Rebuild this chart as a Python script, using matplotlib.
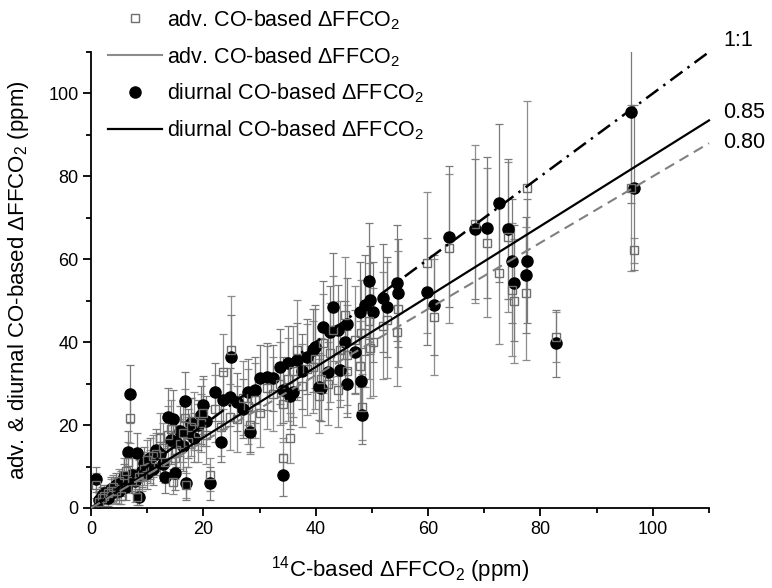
import matplotlib
matplotlib.use("Agg")
import matplotlib.pyplot as plt
from matplotlib.lines import Line2D
from matplotlib.ticker import MultipleLocator

plt.rcParams['font.family'] = ['Liberation Sans', 'DejaVu Sans']
plt.rcParams['mathtext.fontset'] = 'custom'
plt.rcParams['mathtext.rm'] = 'Liberation Sans'
plt.rcParams['mathtext.it'] = 'Liberation Sans:italic'
plt.rcParams['mathtext.bf'] = 'Liberation Sans:bold'

# 14C-based dFFCO2 (ppm)
x14c = [0.9, 1.5, 2.0, 2.4, 3.0, 3.5, 4.0, 4.5, 5.0, 5.4, 5.8, 6.2, 6.6, 6.9, 7.3, 7.8, 8.1, 8.6, 9.0, 9.5,
        10.0, 10.5, 11.0, 11.5, 12.2, 12.8, 13.1, 13.7, 14.2, 14.6, 14.9, 15.2, 15.8, 16.3, 16.7, 16.9, 17.3, 17.8, 18.4, 19.0,
        19.5, 20.0, 20.5, 21.2, 22.1, 23.2, 23.5, 24.7, 25.0, 25.9, 27.0, 28.0, 28.3, 29.2, 30.1, 31.3, 32.4, 33.6, 34.1, 34.2,
        35.1, 35.4, 36.0, 36.6, 37.5, 38.4, 39.5, 39.9, 40.5, 41.0, 41.3, 42.2, 42.5, 43.1, 44.0, 44.3, 45.2, 45.5, 45.6, 47.0,
        47.9, 48.0, 48.2, 48.8, 49.5, 49.6, 50.2, 51.9, 52.7, 54.5, 54.6, 59.8, 61.0, 63.8, 68.3, 70.5, 72.7, 74.3, 74.9, 75.3,
        77.5, 77.6, 82.7, 96.2, 96.6]

# diurnal CO-based dFFCO2 and uncertainty
diurnal = [6.9, 2.0, 3.0, 3.5, 2.5, 4.5, 3.8, 5.5, 4.0, 6.0, 7.5, 5.0, 13.6, 27.4, 8.0, 6.5, 13.2, 2.7, 9.0, 10.8,
           8.5, 12.0, 9.5, 14.0, 13.0, 10.5, 7.5, 21.9, 16.5, 21.4, 8.4, 16.0, 18.5, 15.0, 25.9, 6.0, 18.0, 20.5, 17.0, 20.0,
           22.5, 24.8, 21.0, 6.0, 28.0, 16.0, 26.0, 26.8, 36.5, 25.6, 24.0, 28.0, 18.4, 28.5, 31.3, 31.7, 31.3, 34.1, 8.0, 28.5,
           34.9, 27.0, 28.0, 35.7, 33.0, 36.5, 38.1, 38.9, 29.3, 28.9, 43.7, 32.9, 42.5, 48.5, 42.9, 33.4, 40.0, 44.5, 29.9, 37.7,
           47.3, 30.7, 22.5, 49.0, 54.8, 50.2, 47.3, 50.6, 48.5, 54.3, 51.8, 52.2, 49.0, 65.4, 67.3, 67.6, 73.6, 67.3, 59.6, 54.3,
           56.2, 59.6, 39.7, 95.6, 77.3]
diurnal_err = [3, 2, 2, 2, 2, 3, 2, 3, 3, 3, 3, 3, 5, 7, 4, 3, 5, 2, 4, 4,
               4, 5, 4, 5, 5, 4, 4, 7, 6, 7, 4, 6, 6, 6, 7, 4, 6, 6, 6, 6,
               7, 7, 6, 4, 7, 5, 7, 7, 10, 7, 7, 8, 5, 8, 8, 8, 8, 9, 5, 8,
               9, 8, 8, 9, 9, 9, 10, 10, 8, 8, 11, 9, 11, 13, 11, 9, 10, 11, 8, 10,
               12, 8, 7, 12, 14, 13, 12, 13, 12, 14, 13, 13, 12, 17, 17, 17, 19, 17, 15, 14,
               14, 15, 8, 22, 20]

# advective CO-based dFFCO2 and uncertainty
advect = [5.5, 1.5, 2.5, 3.0, 3.5, 4.0, 5.0, 4.2, 6.5, 3.0, 8.0, 9.0, 11.0, 21.6, 6.5, 4.5, 2.7, 7.5, 8.0, 9.5,
          11.5, 10.0, 12.5, 13.0, 16.9, 14.5, 11.0, 17.5, 19.0, 6.3, 12.0, 14.0, 15.5, 18.0, 21.6, 5.5, 16.0, 19.5, 21.0, 18.0,
          20.5, 23.0, 17.5, 8.0, 24.0, 19.5, 32.9, 22.0, 38.1, 21.5, 26.5, 24.5, 20.0, 26.0, 22.8, 29.0, 27.5, 30.0, 12.0, 25.0,
          31.0, 16.8, 33.0, 38.1, 29.5, 33.5, 34.0, 36.0, 27.0, 31.0, 39.7, 30.0, 37.5, 43.0, 28.5, 38.0, 46.5, 36.9, 33.0, 40.5,
          34.2, 42.1, 24.4, 42.1, 45.0, 38.5, 40.0, 44.0, 45.3, 42.5, 48.0, 59.2, 46.1, 62.6, 68.5, 64.0, 56.6, 65.4, 52.7, 50.0,
          51.8, 77.1, 41.2, 77.1, 62.2]
advect_err = [3, 2, 2, 2, 2, 3, 3, 3, 3, 2, 4, 4, 5, 6, 3, 3, 2, 4, 4, 4,
              5, 4, 5, 5, 6, 6, 5, 7, 7, 3, 5, 6, 6, 7, 7, 3, 6, 7, 7, 7,
              7, 8, 7, 4, 8, 7, 9, 8, 13, 8, 9, 9, 7, 9, 8, 10, 9, 10, 5, 9,
              10, 6, 11, 12, 10, 11, 11, 12, 9, 10, 12, 10, 12, 13, 9, 12, 14, 12, 10, 13,
              11, 13, 8, 13, 14, 12, 13, 13, 14, 13, 14, 17, 14, 18, 19, 18, 17, 18, 16, 15,
              16, 21, 6, 20, 3]

# reference lines: slope and label
line_slopes = [1.0, 0.85, 0.80]
line_labels = ['1:1', '0.85', '0.80']
legend_labels = [r'adv. CO-based ΔFFCO$_{\mathrm{2}}$', r'adv. CO-based ΔFFCO$_{\mathrm{2}}$',
                 r'diurnal CO-based ΔFFCO$_{\mathrm{2}}$', r'diurnal CO-based ΔFFCO$_{\mathrm{2}}$']
xmax = 110

W, H = 772, 588
fig = plt.figure(figsize=(W / 100, H / 100), dpi=100)
ax = fig.add_axes([91 / W, (H - 508) / H, 618 / W, 456 / H])

# error bars
ax.errorbar(x14c, advect, yerr=advect_err, fmt='none', ecolor='#8c8c8c', elinewidth=0.9,
            capsize=3, capthick=0.9, zorder=2)
ax.errorbar(x14c, diurnal, yerr=diurnal_err, fmt='none', ecolor='#7a7a7a', elinewidth=0.9,
            capsize=3, capthick=0.9, zorder=2.5)
# markers
ax.plot(x14c, diurnal, 'o', color='black', markersize=8, zorder=3)
ax.plot(x14c, advect, 's', markerfacecolor='none', markeredgecolor='#6e6e6e',
        markeredgewidth=1.0, markersize=5.8, zorder=4)

# slope lines
xs = [0, xmax]
styles = [dict(color='black', lw=1.8, linestyle=(0, (6, 2.5, 1, 2.5))),
          dict(color='black', lw=1.6, linestyle='-'),
          dict(color='#808080', lw=1.5, linestyle=(0, (5, 3)))]
for s, st in zip(line_slopes, styles):
    ax.plot(xs, [s * v for v in xs], zorder=5, clip_on=False, **st)

label_py = [40, 112, 143]
for lab, py in zip(line_labels, label_py):
    fig.text(723 / W, 1 - py / H, lab, fontsize=15.5, ha='left', va='center')

ax.set_xlim(0, xmax)
ax.set_ylim(0, xmax)
ax.xaxis.set_major_locator(MultipleLocator(20))
ax.xaxis.set_minor_locator(MultipleLocator(10))
ax.yaxis.set_major_locator(MultipleLocator(20))
ax.yaxis.set_minor_locator(MultipleLocator(10))
for side in ['top', 'right']:
    ax.spines[side].set_visible(False)
for side in ['left', 'bottom']:
    ax.spines[side].set_linewidth(1.3)
ax.tick_params(which='major', direction='out', length=6, width=1.3, labelsize=13, pad=3)
ax.tick_params(which='minor', direction='out', length=3.5, width=1.3)

ax.set_xlabel(r'$^{\mathrm{14}}$C-based ΔFFCO$_{\mathrm{2}}$ (ppm)', fontsize=16)
ax.set_ylabel(r'adv. & diurnal CO-based ΔFFCO$_{\mathrm{2}}$ (ppm)', fontsize=16)
ax.xaxis.label.set_va('center')
ax.yaxis.label.set_va('center')
ax.xaxis.set_label_coords(0.5, (508 - 570) / 456)
ax.yaxis.set_label_coords((19 - 91) / 618, 0.5)

handles = [Line2D([], [], marker='s', linestyle='none', markerfacecolor='none',
                  markeredgecolor='#6e6e6e', markersize=5.8),
           Line2D([], [], color='#8c8c8c', lw=1.5),
           Line2D([], [], marker='o', linestyle='none', color='black', markersize=8),
           Line2D([], [], color='black', lw=1.6)]
fig.legend(handles, legend_labels, loc='upper left', bbox_to_anchor=(108 / W, 1 - 8 / H),
           frameon=False, fontsize=15.5, handlelength=2.5, handletextpad=0.25,
           labelspacing=0.62, borderpad=0, borderaxespad=0)

fig.savefig('out.png', dpi=100)
